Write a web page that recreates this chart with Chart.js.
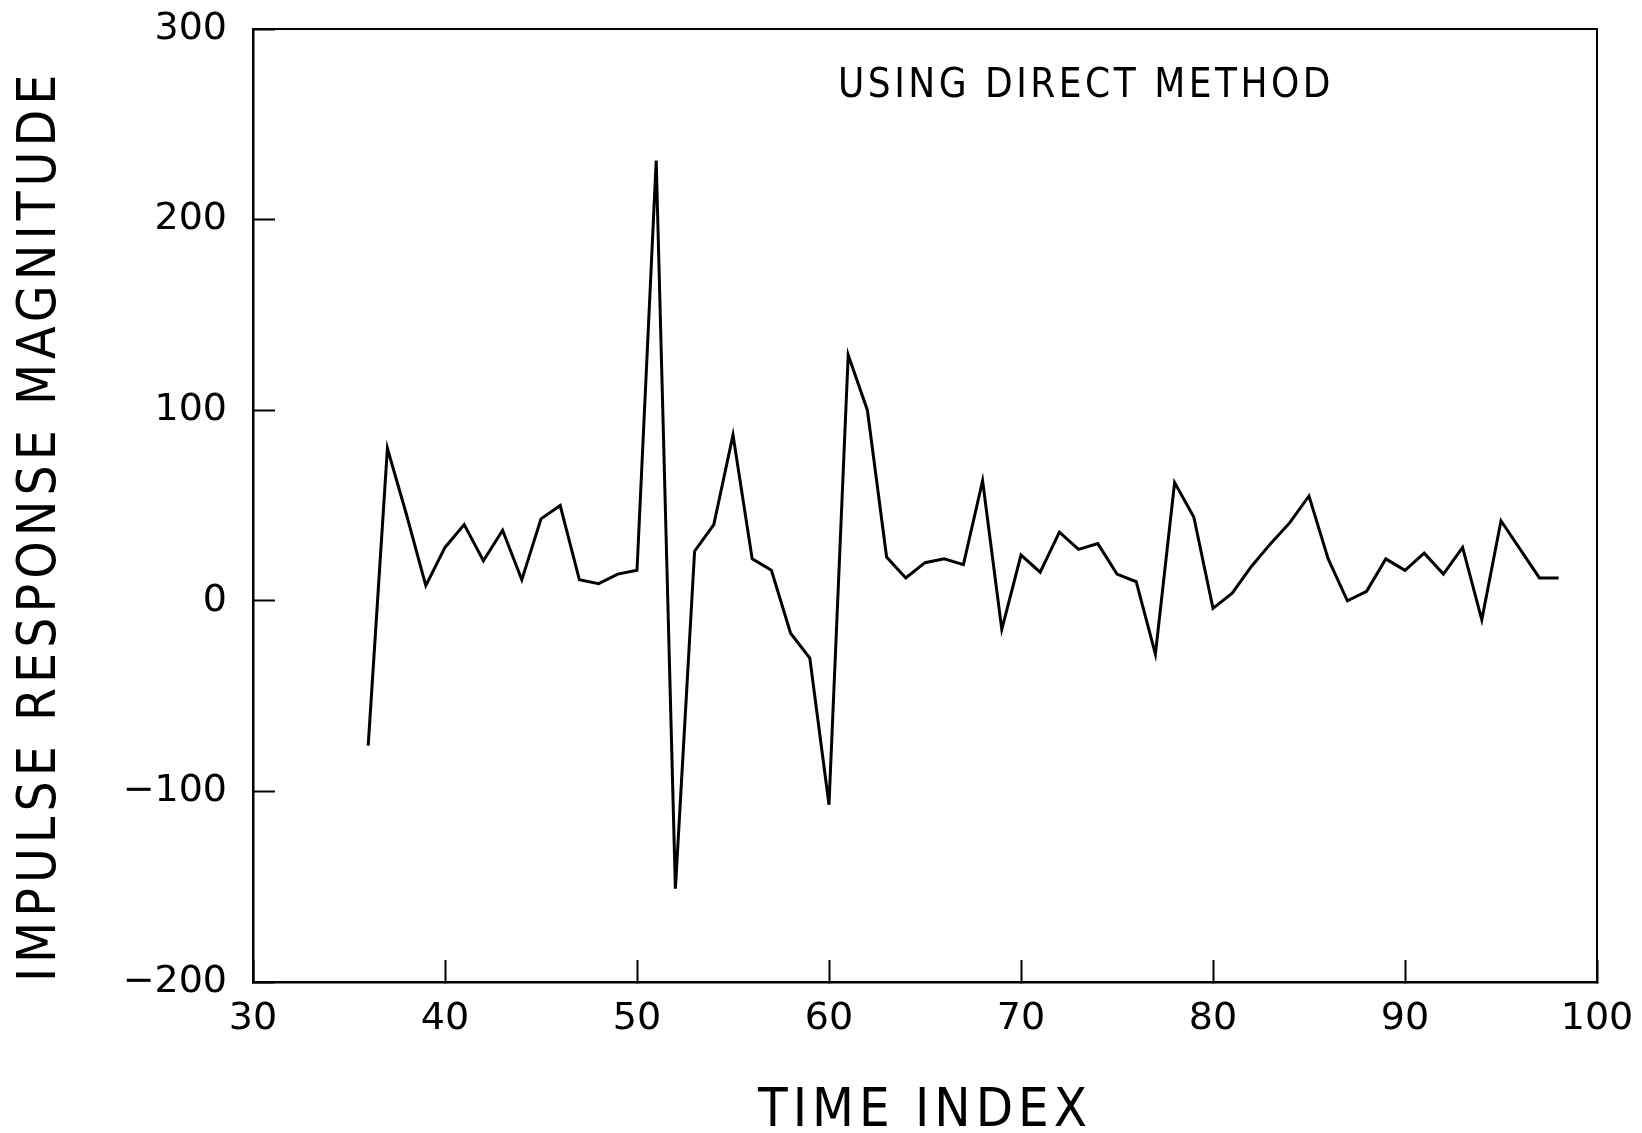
<!DOCTYPE html>
<html>
<head>
<meta charset="utf-8">
<script src="https://cdn.jsdelivr.net/npm/chart.js@4.4.0/dist/chart.umd.min.js"></script>
<style>
  body { margin: 0; background: #fff; }
  canvas { display: block; background: #fff; }
</style>
</head>
<body>
<canvas id="myChart" width="1642" height="1133"></canvas>
<script>
const timeIndex = [36, 37, 38, 39, 40, 41, 42, 43, 44, 45, 46, 47, 48, 49, 50,
  51, 52, 53, 54, 55, 56, 57, 58, 59, 60, 61, 62, 63, 64, 65, 66, 67, 68, 69, 70,
  71, 72, 73, 74, 75, 76, 77, 78, 79, 80, 81, 82, 83, 84, 85, 86, 87, 88, 89, 90,
  91, 92, 93, 94, 95, 96, 97, 98];
const magnitude = [-76, 80, 45, 8, 28, 40, 21, 37, 11, 43, 50, 11, 9, 14, 16,
  231, -151, 26, 40, 87, 22, 16, -17, -30, -107, 129, 100, 23, 12, 20, 22, 19, 63, -15, 24,
  15, 36, 27, 30, 14, 10, -28, 62, 44, -4, 4, 18, 30, 41, 55, 22, 0, 5, 22, 16,
  25, 14, 28, -10, 42, 27, 12, 12];
const xTicks = [30, 40, 50, 60, 70, 80, 90, 100];
const yTicks = [-200, -100, 0, 100, 200, 300];

const titleFont = "'Liberation Sans Narrow', 'DejaVu Sans Condensed', sans-serif";
const tickFont = "'DejaVu Sans', sans-serif";

// frame round the plot and the note in the top right
const frame = {
  id: "frame",
  beforeDraw(chart) {
    chart.ctx.letterSpacing = "5px";
  },
  beforeDatasetsDraw(chart) {
    chart.ctx.letterSpacing = "0px";
  },
  afterDraw(chart) {
    const ctx = chart.ctx;
    const a = chart.chartArea;
    ctx.save();
    ctx.strokeStyle = "#000";
    ctx.lineWidth = 2;
    ctx.strokeRect(a.left, a.top, a.right - a.left, a.bottom - a.top);
    ctx.letterSpacing = "3.5px";
    ctx.font = "40px " + titleFont;
    ctx.fillStyle = "#000";
    ctx.textBaseline = "middle";
    ctx.textAlign = "left";
    ctx.fillText("USING DIRECT METHOD", a.left + 585, a.top + 58);
    ctx.restore();
  },
};

const ctx = document.getElementById("myChart");

new Chart(ctx, {
  type: "line",
  data: {
    datasets: [
      {
        data: timeIndex.map((t, i) => ({ x: t, y: magnitude[i] })),
        borderColor: "#000",
        borderWidth: 3,
        pointRadius: 0,
        tension: 0,
        fill: false,
      },
    ],
  },
  options: {
    responsive: false,
    animation: false,
    devicePixelRatio: 1,
    layout: { padding: { left: 15, top: 29, right: 45, bottom: 0 } },
    plugins: {
      legend: { display: false },
      tooltip: { enabled: false },
    },
    scales: {
      x: {
        type: "linear",
        min: 30,
        max: 100,
        afterFit(scale) {
          scale.height = 151;
          scale.paddingLeft = 0;
          scale.paddingRight = 0;
        },
        afterBuildTicks(scale) {
          scale.ticks = xTicks.map((v) => ({ value: v }));
        },
        ticks: {
          padding: 36,
          color: "#000",
          z: 1,
          font: { family: tickFont, size: 38 },
        },
        grid: {
          drawOnChartArea: false,
          tickLength: -22,
          tickWidth: 2,
          tickColor: "#000",
        },
        border: { color: "#000", width: 2.5 },
        title: {
          display: true,
          text: "TIME INDEX",
          color: "#000",
          padding: 0,
          font: { family: titleFont, size: 54, lineHeight: 0.78 },
        },
      },
      y: {
        min: -200,
        max: 300,
        afterFit(scale) {
          scale.width = 238;
          scale.paddingTop = 0;
          scale.paddingBottom = 0;
        },
        afterBuildTicks(scale) {
          scale.ticks = yTicks.map((v) => ({ value: v }));
        },
        ticks: {
          padding: 48,
          color: "#000",
          z: 1,
          font: { family: tickFont, size: 38 },
          callback: (v) => String(v).replace("-", "\u2212"),
        },
        grid: {
          drawOnChartArea: false,
          tickLength: -22,
          tickWidth: 2,
          tickColor: "#000",
        },
        border: { color: "#000", width: 2.5 },
        title: {
          display: true,
          text: "IMPULSE RESPONSE MAGNITUDE",
          align: "start",
          color: "#000",
          padding: 0,
          font: { family: titleFont, size: 53, lineHeight: 1 },
        },
      },
    },
  },
  plugins: [frame],
});
</script>
</body>
</html>
